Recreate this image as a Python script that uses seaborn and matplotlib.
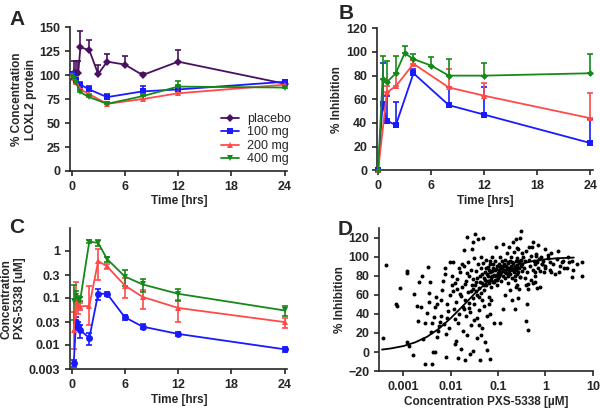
import numpy as np
import pandas as pd
import seaborn as sns
import matplotlib
matplotlib.use("Agg")
import matplotlib.pyplot as plt

sns.set_style("ticks")
plt.rcParams['font.family'] = ['Liberation Sans', 'DejaVu Sans']
plt.rcParams['font.weight'] = 'bold'
plt.rcParams['axes.labelweight'] = 'bold'
plt.rcParams['axes.linewidth'] = 1.2
plt.rcParams['xtick.major.width'] = 1.2
plt.rcParams['ytick.major.width'] = 1.2
plt.rcParams['xtick.major.size'] = 3.5
plt.rcParams['ytick.major.size'] = 3.5
plt.rcParams['xtick.labelsize'] = 9
plt.rcParams['ytick.labelsize'] = 9
plt.rcParams['axes.labelsize'] = 8.5

# ---- colours
col_placebo = "#4a1060"
col_100 = "#1a1aff"
col_200 = "#ff4a4a"
col_400 = "#17891a"

# ---- panel A: % LOXL2 protein
a_time_placebo = [0, 0.25, 0.5, 0.75, 1, 2, 3, 4, 6, 8, 12, 24]
a_placebo = [100, 102, 102, 102, 129, 126, 101, 114, 111, 100, 114, 91]
a_placebo_err = [3, 13, 13, 13, 17, 11, 9, 8, 9, 2, 12, 3]
a_time = [0, 0.25, 0.5, 1, 2, 4, 8, 12, 24]
a_100 = [101, 98, 95, 90, 85, 77, 83, 85, 93]
a_100_err = [2, 2, 2, 3, 4, 3, 6, 4, 2]
a_200 = [100, 97, 93, 85, 80, 70, 75, 81, 90]
a_200_err = [2, 2, 2, 2, 3, 2, 3, 2, 2]
a_400 = [99, 96, 92, 82, 77, 70, 78, 88, 87]
a_400_err = [2, 2, 2, 2, 2, 2, 2, 6, 2]

# ---- panel B: % inhibition vs time
b_time_100 = [0, 0.5, 1, 2, 4, 8, 12, 24]
b_100 = [0, 56, 42, 38, 82, 55, 47, 23]
b_100_err = [0, 35, 21, 20, 4, 15, 23, 20]
b_time_200 = [0, 1, 2, 4, 8, 12, 24]
b_200 = [0, 66, 71, 90, 70, 63, 44]
b_200_err = [0, 5, 11, 3, 16, 11, 21]
b_time_400 = [0, 0.5, 1, 2, 3, 4, 6, 8, 12, 24]
b_400 = [0, 77, 74.5, 82, 99, 94, 88.5, 80, 80, 82]
b_400_err = [0, 20, 18, 15, 6, 4, 7, 14, 11, 16]

# ---- panel C: concentration PXS-5338 [uM]
c_time = [0.25, 0.5, 0.75, 1, 2, 3, 4, 6, 8, 12, 24]
c_100 = [0.004, 0.03, 0.025, 0.02, 0.0138, 0.12, 0.12, 0.038, 0.024, 0.0168, 0.0079]
c_100_err = [0.0007, 0.008, 0.005, 0.006, 0.004, 0.03, 0.012, 0.005, 0.003, 0.0015, 0.001]
c_200 = [0.02, 0.085, 0.065, 0.065, 0.066, 0.6, 0.46, 0.18, 0.103, 0.06, 0.03]
c_200_err = [0.03, 0.13, 0.02, 0.01, 0.11, 0.5, 0.05, 0.08, 0.045, 0.03, 0.007]
c_400 = [0.085, 0.108, 0.095, 0.095, 1.55, 1.45, 0.66, 0.28, 0.19, 0.12, 0.053]
c_400_err = [0.1, 0.03, 0.015, 0.01, 0.1, 0.2, 0.08, 0.1, 0.06, 0.035, 0.012]
c_ticks = [0.003, 0.01, 0.03, 0.1, 0.3, 1]
c_ticklabels = ["0.003", "0.01", "0.03", "0.1", "0.3", "1"]

# ---- panel D: inhibition vs concentration (log10 conc)
d_logconc = [
    -3.44, -3.37, -3.15, -3.13, -3.08, -2.93, -2.92, -2.92, -2.88, -2.80,
    -2.77, -2.72, -2.70, -2.68, -2.63, -2.61, -2.58, -2.55, -2.54, -2.51,
    -2.47, -2.45, -2.45, -2.44, -2.42, -2.39, -2.37, -2.33, -2.39, -2.36,
    -2.34, -2.32, -2.30, -2.28, -2.27, -2.25, -2.23, -2.21, -2.20, -2.18,
    -2.17, -2.14, -2.13, -2.12, -2.11, -2.10, -2.08, -2.08, -2.05, -2.03,
    -2.02, -2.01,
    -1.96, -1.98, -1.95, -1.93, -1.92, -1.90, -1.89, -1.88, -1.86, -1.85,
    -1.84, -1.82, -1.80, -1.79, -1.78, -1.76, -1.75, -1.74, -1.72, -1.71,
    -1.70, -1.69, -1.68, -1.67, -1.66, -1.65, -1.64, -1.63, -1.62, -1.61,
    -1.60, -1.59, -1.58, -1.57, -1.56, -1.55, -1.54, -1.53, -1.52, -1.51,
    -1.50, -1.97, -1.91, -1.87, -1.83, -1.81, -1.77, -1.73, -1.69, -1.66,
    -1.62, -1.58, -1.54, -1.52, -1.50,
    -1.49, -1.47, -1.46, -1.45, -1.44, -1.43, -1.42, -1.41, -1.40, -1.39,
    -1.38, -1.37, -1.36, -1.35, -1.34, -1.33, -1.32, -1.31, -1.30, -1.29,
    -1.28, -1.27, -1.26, -1.25, -1.24, -1.23, -1.22, -1.21, -1.20, -1.19,
    -1.18, -1.17, -1.16, -1.15, -1.14, -1.13, -1.12, -1.11, -1.10, -1.09,
    -1.08, -1.07, -1.06, -1.05, -1.04, -1.03, -1.02, -1.01, -1.00,
    -1.48, -1.46, -1.44, -1.41, -1.38, -1.36, -1.33, -1.30, -1.27, -1.25,
    -1.22, -1.20, -1.18, -1.16, -1.14, -1.12, -1.10, -1.08, -1.06, -1.04,
    -1.02, -1.45, -1.40, -1.36, -1.30, -1.24, -1.19, -1.15,
    -0.99, -0.98, -0.97, -0.96, -0.95, -0.94, -0.93, -0.92, -0.91, -0.90,
    -0.89, -0.88, -0.87, -0.86, -0.85, -0.84, -0.83, -0.82, -0.81, -0.80,
    -0.79, -0.78, -0.77, -0.76, -0.75, -0.74, -0.73, -0.72, -0.71, -0.70,
    -0.69, -0.68, -0.67, -0.66, -0.65, -0.64, -0.63, -0.62, -0.61, -0.60,
    -0.59, -0.58, -0.57, -0.56, -0.55, -0.54, -0.53, -0.52, -0.51, -0.50,
    -0.95, -0.85, -0.70, -0.65, -0.60, -0.55, -0.90, -0.75, -0.62, -0.80,
    -0.98, -0.95, -0.93, -0.90, -0.87, -0.85, -0.82, -0.80, -0.78, -0.75,
    -0.72, -0.70, -0.68, -0.65, -0.62, -0.60, -0.57,
    -0.49, -0.47, -0.45, -0.43, -0.41, -0.40, -0.39, -0.38, -0.36, -0.35,
    -0.33, -0.31, -0.29, -0.27, -0.25, -0.23, -0.21, -0.19, -0.17, -0.15,
    -0.13, -0.11, -0.09, -0.07, -0.05, -0.03, -0.01, -0.44, -0.42, -0.37,
    -0.30, -0.22, -0.12,
    -0.51, -0.62, -0.26, -0.15, -0.60, -0.35, -0.01, 0.27, -0.49, -0.20,
    0.06, 0.48, 0.56, 0.35, 0.10, -0.07, 0.39, 0.12, 0.56, -0.22,
    -0.54, -0.37, -0.26, -0.18, -0.58,
    0.77, 0.77, 0.59, 0.66, 0.45, 0.38, 0.31, 0.24, 0.17, 0.10,
    0.05, 0.20, 0.28, 0.50, 0.12, 0.00,
]
d_inhibition = [
    15, 91, 50, 48, 67, 85, 83, 11, 6, -3,
    61, 48, 33, 73, 47, 80, 14, -13, 31, 41,
    89, 62, 52, 73, 21, -13, 0, 0, 30, 37,
    47, 58, 50, 16, 22, 27, 32, 38, 55, 65,
    75, 29, 82, 88, 19, -5, 50, 36, 43, 25,
    94, 60,
    94, 70, 64, 45, 8, 35, 12, 52, 77, -6,
    30, 40, 84, 59, 3, 68, 47, 22, 90, 107,
    55, -8, 38, 75, 18, 121, 94, 63, 51, 80,
    42, -2, 28, 86, 108, 70, 1, 57, 115, 34,
    99, 80, 72, 66, 88, 61, 92, 45, 71, 83,
    46, 64, 77, 66, 50,
    124, 85, 73, 60, 15, 92, 119, 67, 44, 80,
    -8, 88, 100, 55, 72, 25, 93, 120, 78, 65,
    84, 11, 97, 70, 82, 2, 89, 75, 58, 86,
    40, -7, 92, 79, 68, 100, 85, 73, 88, 30,
    81, 95, 76, 110, 87, 70, 90, 83, 78,
    70, 64, 78, 58, 74, 62, 82, 70, 76, 88,
    80, 72, 95, 84, 76, 80, 92, 74, 86, 80,
    76, 36, 28, 18, 48, 38, 50, 55,
    86, 92, 80, 100, 89, 75, 84, 95, 88, 80,
    113, 92, 85, 78, 97, 90, 83, 104, 87, 93,
    80, 88, 110, 85, 96, 82, 90, 100, 78, 87,
    115, 93, 84, 105, 89, 76, 95, 86, 99, 82,
    91, 108, 84, 94, 88, 120, 79, 97, 90, 85,
    30, 60, 55, 45, 70, 66, 45, 65, 68, 72,
    84, 82, 90, 86, 90, 84, 88, 82, 94, 86,
    88, 94, 86, 80, 90, 88, 96,
    92, 100, 88, 95, 33, 106, 50, 84, 23, 97,
    90, 101, 110, 86, 96, 92, 80, 103, 94, 88,
    98, 85, 100, 92, 96, 84, 90, 78, 70, 66,
    76, 74, 68,
    127, 119, 115, 112, 109, 110, 108, 106, 104, 101,
    102, 100, 95, 94, 94, 92, 88, 84, 79, 84,
    79, 71, 72, 67, 57,
    94, 80, 86, 92, 88, 95, 90, 98, 92, 86,
    99, 82, 84, 94, 104, 88,
]
# fitted curve
d_curve_logconc = [-3.45, -3.25, -3.0, -2.75, -2.5, -2.25, -2.0, -1.75, -1.5,
                   -1.25, -1.0, -0.75, -0.5, -0.25, 0.0, 0.25, 0.6]
d_curve_inhibition = [2.6, 3.9, 6.3, 10.2, 16, 24.5, 35.5, 48, 61,
                      72.5, 82, 88.5, 92.8, 95.6, 97.3, 98.4, 99.1]
d_xticks = [0.001, 0.01, 0.1, 1, 10]
d_xticklabels = ["0.001", "0.01", "0.1", "1", "10"]

fig = plt.figure(figsize=(6.0, 4.11), dpi=100)
axA = fig.add_axes([0.117, 0.584, 0.362, 0.350])
axB = fig.add_axes([0.628, 0.586, 0.360, 0.345])
axC = fig.add_axes([0.117, 0.102, 0.362, 0.343])
axD = fig.add_axes([0.632, 0.097, 0.356, 0.348])


def draw_series(ax, t, y, err, color, marker, label=None, both=False, ms=5):
    sns.lineplot(x=t, y=y, ax=ax, color=color, marker=marker, markersize=ms,
                 markeredgewidth=0, linewidth=1.3, label=label,
                 legend=label is not None, clip_on=False, zorder=3)
    y = np.array(y, dtype=float)
    e = np.array(err, dtype=float)
    if both:
        lo = np.minimum(e, y * 0.6)
    else:
        lo = np.zeros_like(e)
    ax.errorbar(t, y, yerr=[lo, e], fmt='none', ecolor=color, elinewidth=1.2,
                capsize=2.5, capthick=1.2, clip_on=False, zorder=2)


def style_time_axis(ax):
    ax.set_xlim(-0.15, 24.3)
    ax.set_xticks([0, 6, 12, 18, 24])
    ax.set_xlabel("Time [hrs]", labelpad=2)
    sns.despine(ax=ax)


# A
draw_series(axA, a_time_placebo, a_placebo, a_placebo_err, col_placebo, "D", "placebo", ms=4.5)
draw_series(axA, a_time, a_100, a_100_err, col_100, "s", "100 mg")
draw_series(axA, a_time, a_200, a_200_err, col_200, "^", "200 mg")
draw_series(axA, a_time, a_400, a_400_err, col_400, "v", "400 mg")
axA.set_ylim(0, 150)
axA.set_yticks([0, 25, 50, 75, 100, 125, 150])
axA.set_ylabel("% Concentration\nLOXL2 protein", labelpad=2)
style_time_axis(axA)
leg = axA.legend(loc="lower right", bbox_to_anchor=(1.07, -0.04), frameon=False,
                 handlelength=1.4, handletextpad=0.7, labelspacing=0.12,
                 prop={'size': 9, 'weight': 'normal'})

# B
draw_series(axB, b_time_100, b_100, b_100_err, col_100, "s")
draw_series(axB, b_time_200, b_200, b_200_err, col_200, "^")
draw_series(axB, b_time_400, b_400, b_400_err, col_400, "D", ms=3.5)
axB.set_ylim(0, 120)
axB.set_yticks([0, 20, 40, 60, 80, 100, 120])
axB.set_ylabel("% Inhibition", labelpad=2)
style_time_axis(axB)

# C
draw_series(axC, c_time, c_100, c_100_err, col_100, "o", both=True)
draw_series(axC, c_time, c_200, c_200_err, col_200, "^", both=True)
draw_series(axC, c_time, c_400, c_400_err, col_400, "v", both=True)
axC.set_yscale("log")
axC.set_ylim(0.003, 3.0)
axC.set_yticks(c_ticks)
axC.set_yticklabels(c_ticklabels)
axC.yaxis.set_minor_locator(plt.NullLocator())
axC.set_ylabel("Concentration\nPXS-5338 [uM]", labelpad=2)
style_time_axis(axC)

# D
d_df = pd.DataFrame({"conc": 10 ** np.array(d_logconc), "inhibition": d_inhibition})
curve_df = pd.DataFrame({"conc": 10 ** np.array(d_curve_logconc),
                         "inhibition": d_curve_inhibition})
sns.scatterplot(data=d_df, x="conc", y="inhibition", ax=axD, color="black",
                s=8, linewidth=0, zorder=3)
sns.lineplot(data=curve_df, x="conc", y="inhibition", ax=axD, color="black",
             linewidth=1.3, zorder=4)
axD.set_xscale("log")
axD.set_xlim(10 ** -3.51, 10)
axD.set_ylim(-20, 130)
axD.set_yticks([-20, 0, 20, 40, 60, 80, 100, 120])
axD.set_xticks(d_xticks)
axD.set_xticklabels(d_xticklabels)
axD.xaxis.set_minor_locator(plt.NullLocator())
axD.set_xlabel("Concentration PXS-5338 [µM]", labelpad=2)
axD.set_ylabel("% Inhibition", labelpad=2)
sns.despine(ax=axD)

# panel letters
for letter, x, y in [("A", 0.015, 0.975), ("B", 0.565, 0.99),
                     ("C", 0.015, 0.47), ("D", 0.563, 0.465)]:
    fig.text(x, y, letter, fontsize=15, fontweight="bold", va="top", ha="left")

fig.savefig("out.png", dpi=100)
